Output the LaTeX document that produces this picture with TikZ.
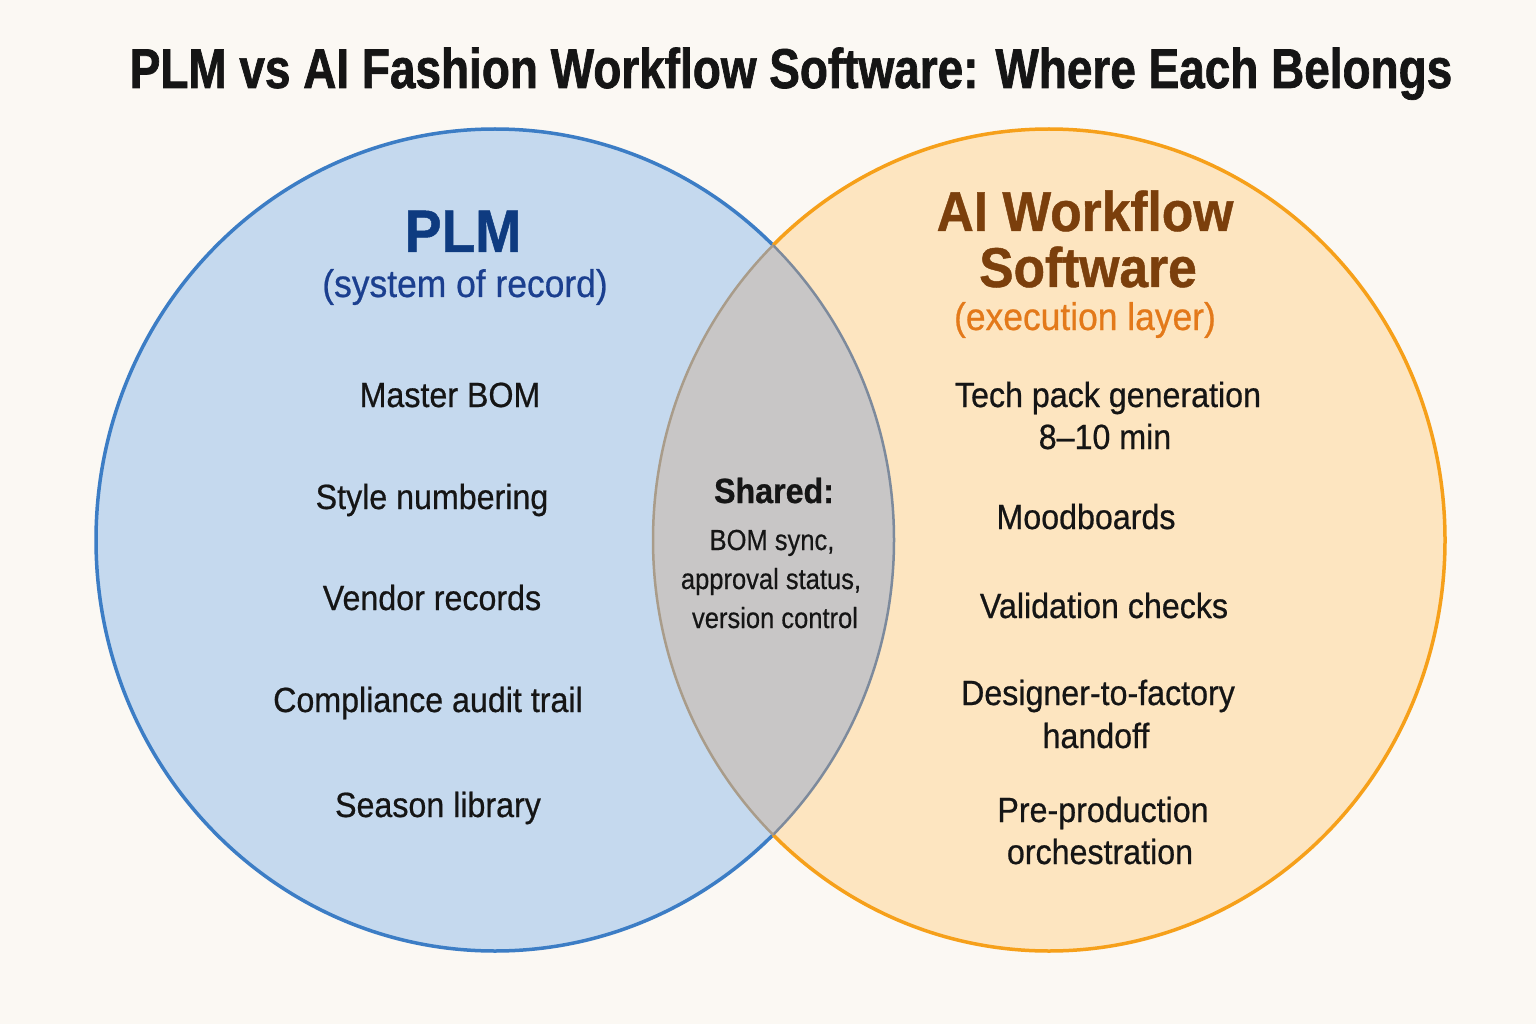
\documentclass[tikz,border=0pt]{standalone}
\usepackage{fontspec}
\setmainfont{Liberation Sans}[FakeStretch=0.92, UprightFeatures={FakeBold=0.6}, BoldFeatures={FakeBold=0.8}]
\newfontfamily\titlefont{Liberation Sans}[FakeStretch=0.82, BoldFeatures={FakeBold=1.2}]
\newfontfamily\sharedfont{Liberation Sans}[FakeStretch=0.88, UprightFeatures={FakeBold=0.5}]
\definecolor{bg}{HTML}{FBF8F3}
\definecolor{bluefill}{HTML}{C5D9EE}
\definecolor{bluestroke}{HTML}{3C7DC5}
\definecolor{orfill}{HTML}{FDE5C0}
\definecolor{orstroke}{HTML}{F6A01A}
\definecolor{lensfill}{HTML}{C8C6C6}
\definecolor{lensleft}{HTML}{A99C8A}
\definecolor{lensright}{HTML}{7D8A9C}
\definecolor{plmblue}{HTML}{0E3B80}
\definecolor{plmsub}{HTML}{1B3F8F}
\definecolor{aibrown}{HTML}{7B3F0C}
\definecolor{aisub}{HTML}{E3791A}
\definecolor{body}{HTML}{151515}
\begin{document}
\begin{tikzpicture}[x=1pt,y=-1pt,
  every node/.style={inner sep=0pt,outer sep=0pt,anchor=base},
  titletext/.style={font=\titlefont\bfseries\fontsize{56}{60}\selectfont,text=body},
  headL/.style={font=\bfseries\fontsize{60}{64}\selectfont,text=plmblue},
  subL/.style={font=\fontsize{38.5}{42}\selectfont,text=plmsub},
  headR/.style={font=\bfseries\fontsize{56}{60}\selectfont,text=aibrown},
  subR/.style={font=\fontsize{38.5}{42}\selectfont,text=aisub},
  item/.style={font=\fontsize{35}{42}\selectfont,text=body},
  sharedhead/.style={font=\bfseries\fontsize{35}{40}\selectfont,text=body},
  shareditem/.style={font=\sharedfont\fontsize{29}{36}\selectfont,text=body}
]
\useasboundingbox (0,0) rectangle (1536,1024);
\fill[bg] (0,0) rectangle (1536,1024);

% circles
\def\leftell{(495,540) ellipse [x radius=399pt, y radius=411pt]}
\def\rightell{(1049,540) ellipse [x radius=396pt, y radius=411pt]}
\fill[bluefill] \leftell;
\fill[orfill] \rightell;
\begin{scope}
  \clip \leftell;
  \fill[lensfill] \rightell;
\end{scope}
% outer strokes
\begin{scope}[even odd rule]
  \clip (0,0) rectangle (1536,1024) \rightell;
  \draw[bluestroke,line width=3.5pt] \leftell;
\end{scope}
\begin{scope}[even odd rule]
  \clip (0,0) rectangle (1536,1024) \leftell;
  \draw[orstroke,line width=3.5pt] \rightell;
\end{scope}
% lens strokes
\begin{scope}
  \clip \rightell;
  \draw[lensright,line width=2.5pt] \leftell;
\end{scope}
\begin{scope}
  \clip \leftell;
  \draw[lensleft,line width=2.5pt] \rightell;
\end{scope}

% title
\node[titletext] (title) at (791,88) {PLM vs AI Fashion Workflow Software: Where Each Belongs};

% PLM side
\node[headL] (plm) at (463,252) {PLM};
\node[subL] (plmsub) at (465,297) {(system of record)};
\node[item] (l1) at (450,407) {Master BOM};
\node[item] (l2) at (432,509) {Style numbering};
\node[item] (l3) at (432,610) {Vendor records};
\node[item] (l4) at (428,712) {Compliance audit trail};
\node[item] (l5) at (438,817) {Season library};

% AI side
\node[headR] (ai1) at (1085,231) {AI Workflow};
\node[headR] (ai2) at (1088,287) {Software};
\node[subR] (aisub) at (1085,330) {(execution layer)};
\node[item] (r1a) at (1108,407) {Tech pack generation};
\node[item] (r1b) at (1105,449) {8–10 min};
\node[item] (r2) at (1086,529) {Moodboards};
\node[item] (r3) at (1104,618) {Validation checks};
\node[item] (r4a) at (1098,705) {Designer-to-factory};
\node[item] (r4b) at (1096,748) {handoff};
\node[item] (r5a) at (1103,822) {Pre-production};
\node[item] (r5b) at (1100,864) {orchestration};

% shared
\node[sharedhead] (sh) at (774,503) {Shared:};
\node[shareditem] (s1) at (772,550) {BOM sync,};
\node[shareditem] (s2) at (771,589) {approval status,};
\node[shareditem] (s3) at (775,628) {version control};
\end{tikzpicture}
\end{document}
